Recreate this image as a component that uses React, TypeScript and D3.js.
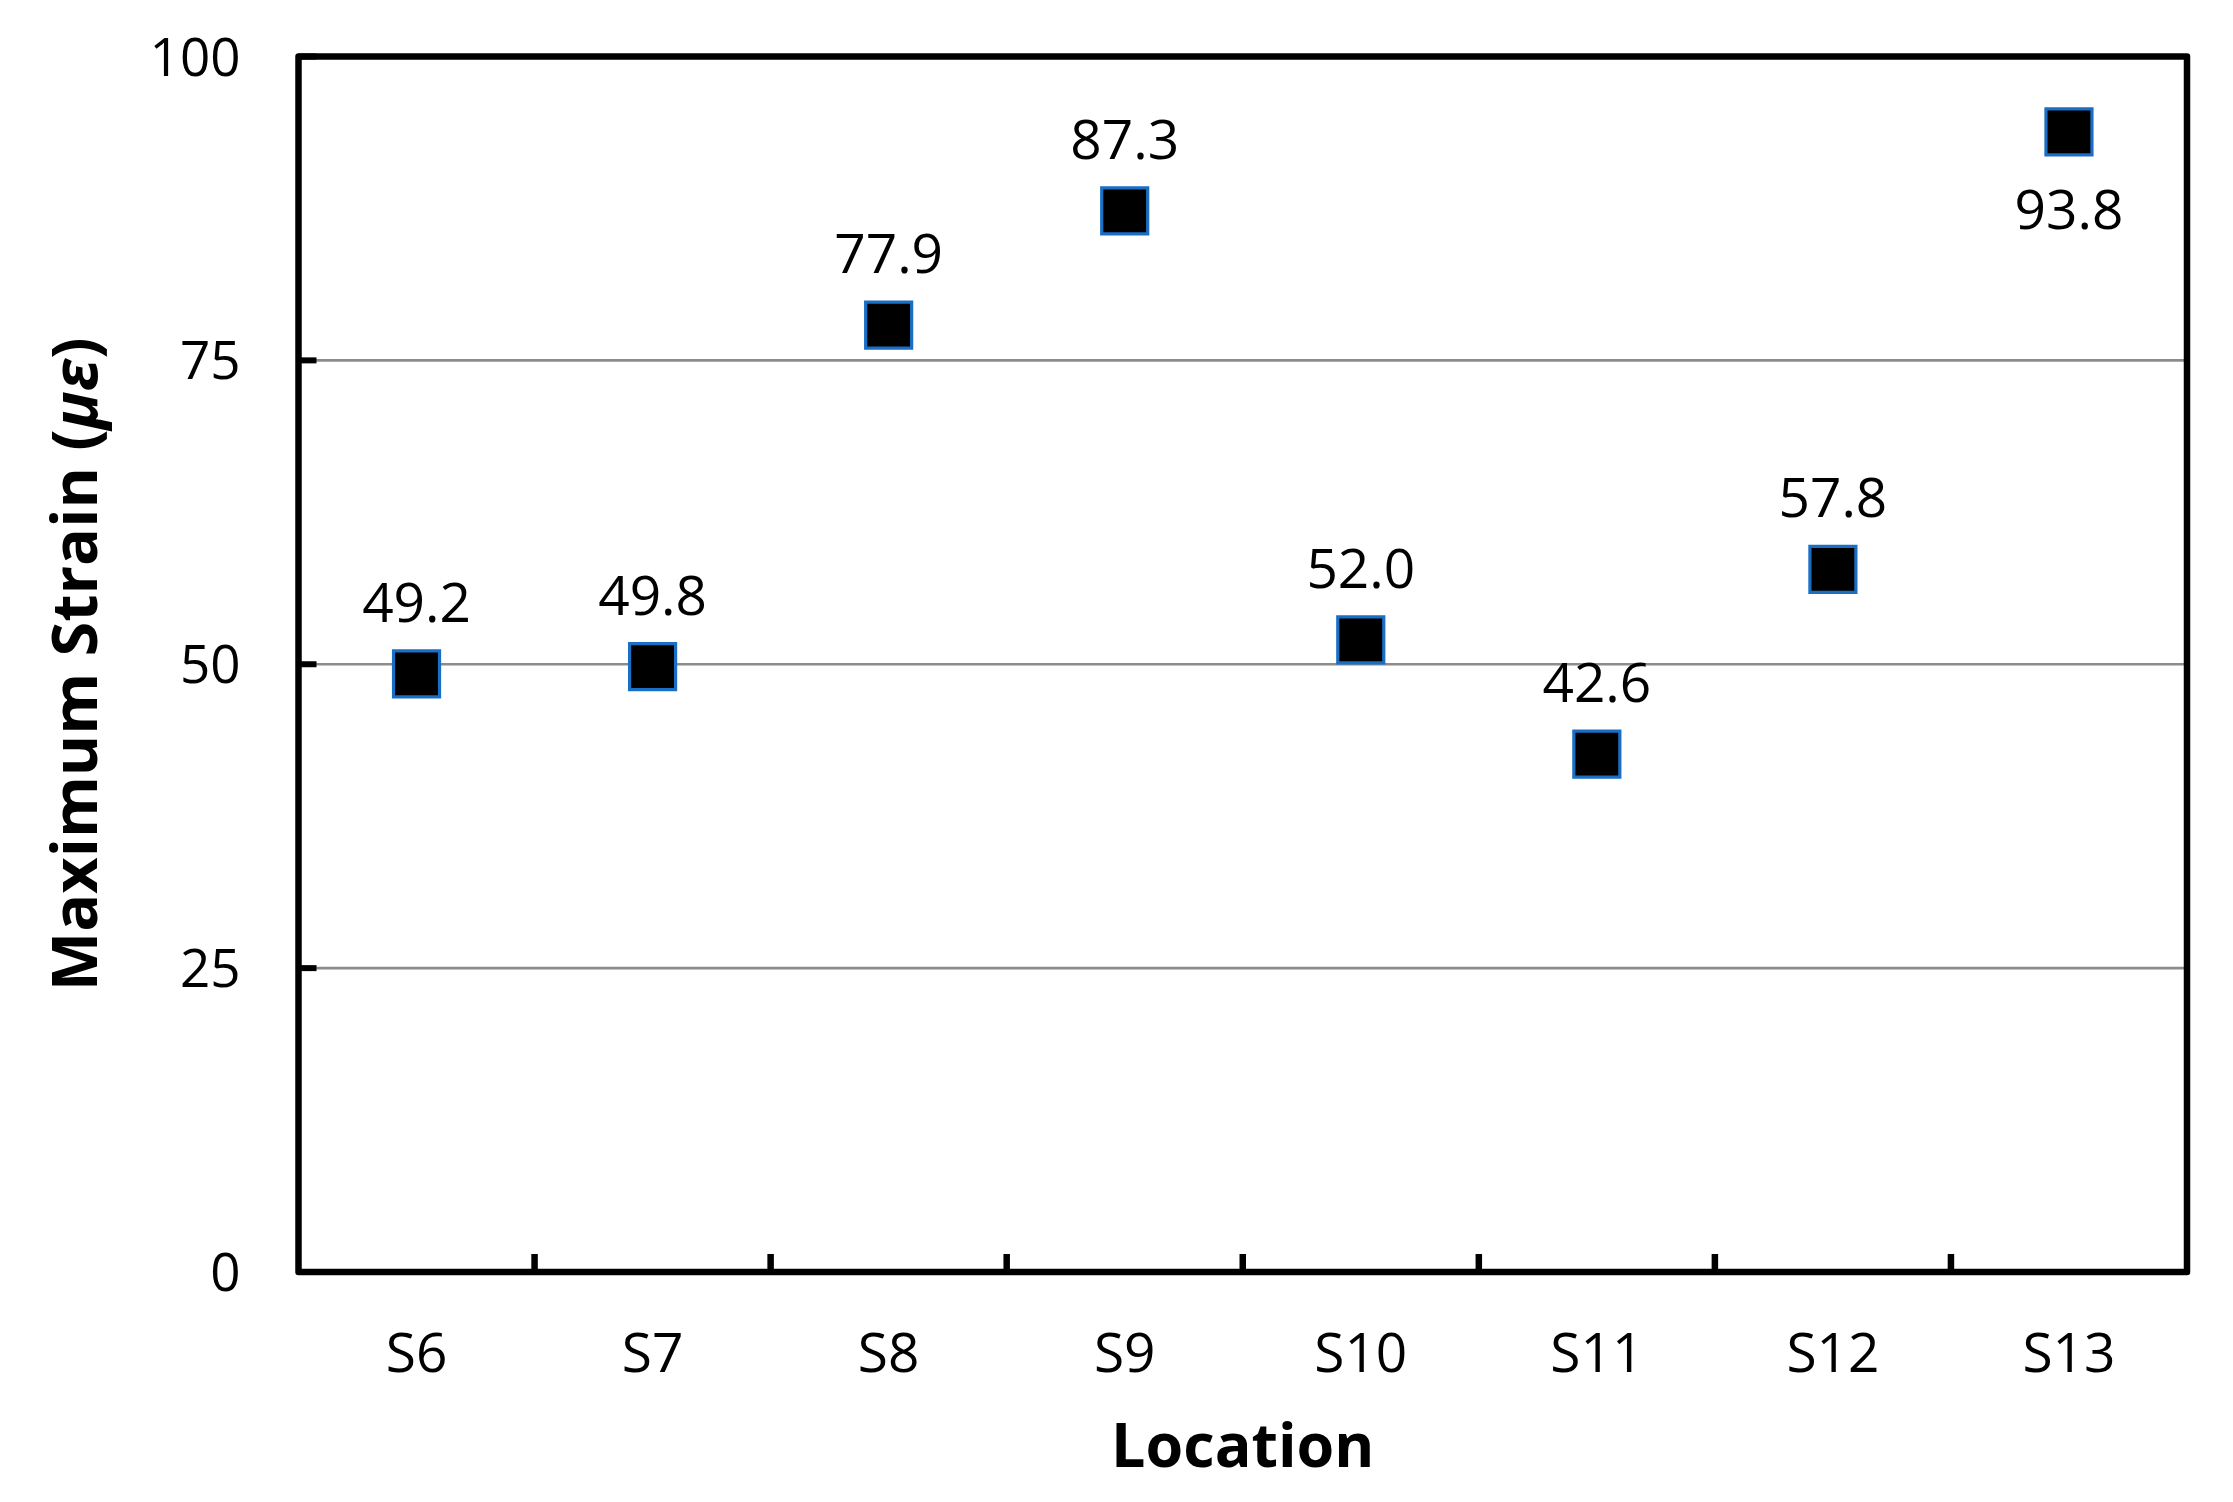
import { useMemo } from "react";
import { scaleBand, scaleLinear, symbol, symbolSquare } from "d3";

const locations = ["S6", "S7", "S8", "S9", "S10", "S11", "S12", "S13"];
const maxStrain = [49.2, 49.8, 77.9, 87.3, 52.0, 42.6, 57.8, 93.8];
// the last label sits under its marker, the rest above
const labelBelow = [false, false, false, false, false, false, false, true];
const yTicks = [0, 25, 50, 75, 100];

const WIDTH = 2233;
const HEIGHT = 1502;
const FONT = "'Open Sans', 'Noto Sans', sans-serif";

export default function App() {
  const margin = { left: 298.5, right: WIDTH - 2187, top: 56.5, bottom: HEIGHT - 1272 };
  const innerW = WIDTH - margin.left - margin.right;
  const innerH = HEIGHT - margin.top - margin.bottom;

  const x = useMemo(
    () => scaleBand<string>().domain(locations).range([0, innerW]).padding(0),
    [innerW]
  );
  const y = useMemo(() => scaleLinear().domain([0, 100]).range([innerH, 0]), [innerH]);

  const markerPath = symbol().type(symbolSquare).size(46 * 46)() ?? "";

  return (
    <svg
      width={WIDTH}
      height={HEIGHT}
      style={{ position: "absolute", left: 0, top: 0, background: "#fff" }}
    >
      <g transform={`translate(${margin.left}, ${margin.top})`}>
        {/* Gridlines */}
        {yTicks
          .filter((t) => t > 0 && t < 100)
          .map((t) => (
            <line
              key={`grid-${t}`}
              x1={0}
              x2={innerW}
              y1={y(t)}
              y2={y(t)}
              stroke="#8c8c8c"
              strokeWidth={2.7}
            />
          ))}

        {/* Y ticks + labels */}
        {yTicks.map((t) => (
          <g key={`yt-${t}`}>
            <line x1={0} x2={18} y1={y(t)} y2={y(t)} stroke="#000" strokeWidth={6} />
            <text
              x={-58}
              y={y(t)}
              dy="0.36em"
              textAnchor="end"
              fontFamily={FONT}
              fontSize={53}
              fill="#000"
            >
              {t}
            </text>
          </g>
        ))}

        {/* X ticks between categories */}
        {locations.slice(1).map((loc) => (
          <line
            key={`xt-${loc}`}
            x1={x(loc) ?? 0}
            x2={x(loc) ?? 0}
            y1={innerH}
            y2={innerH - 18}
            stroke="#000"
            strokeWidth={6.5}
          />
        ))}

        {/* X labels */}
        {locations.map((loc) => (
          <text
            key={`xl-${loc}`}
            x={(x(loc) ?? 0) + x.bandwidth() / 2}
            y={1372 - margin.top}
            textAnchor="middle"
            fontFamily={FONT}
            fontSize={55}
            fill="#000"
          >
            {loc}
          </text>
        ))}

        {/* Frame */}
        <rect
          x={0}
          y={0}
          width={innerW}
          height={innerH}
          fill="none"
          stroke="#000"
          strokeWidth={6.5}
          strokeLinejoin="round"
        />

        {/* Markers and value labels */}
        {locations.map((loc, i) => {
          const cx = (x(loc) ?? 0) + x.bandwidth() / 2;
          const cy = y(maxStrain[i]);
          return (
            <g key={`pt-${loc}`}>
              <path
                d={markerPath}
                transform={`translate(${cx}, ${cy})`}
                fill="#000"
                stroke="#1a6fc4"
                strokeWidth={3.2}
              />
              <text
                x={cx}
                y={labelBelow[i] ? cy + 97 : cy - 52}
                textAnchor="middle"
                fontFamily={FONT}
                fontSize={55}
                fill="#000"
              >
                {maxStrain[i].toFixed(1)}
              </text>
            </g>
          );
        })}
      </g>

      {/* Axis titles */}
      <text
        x={margin.left + innerW / 2}
        y={1467}
        textAnchor="middle"
        fontFamily={FONT}
        fontSize={61}
        fontWeight="bold"
        fill="#000"
      >
        Location
      </text>
      <text
        transform={`translate(97, ${margin.top + innerH / 2}) rotate(-90)`}
        textAnchor="middle"
        fontFamily={FONT}
        fontSize={63}
        fontWeight="bold"
        fill="#000"
      >
        Maximum Strain (<tspan fontStyle="italic">με</tspan>)
      </text>
    </svg>
  );
}
